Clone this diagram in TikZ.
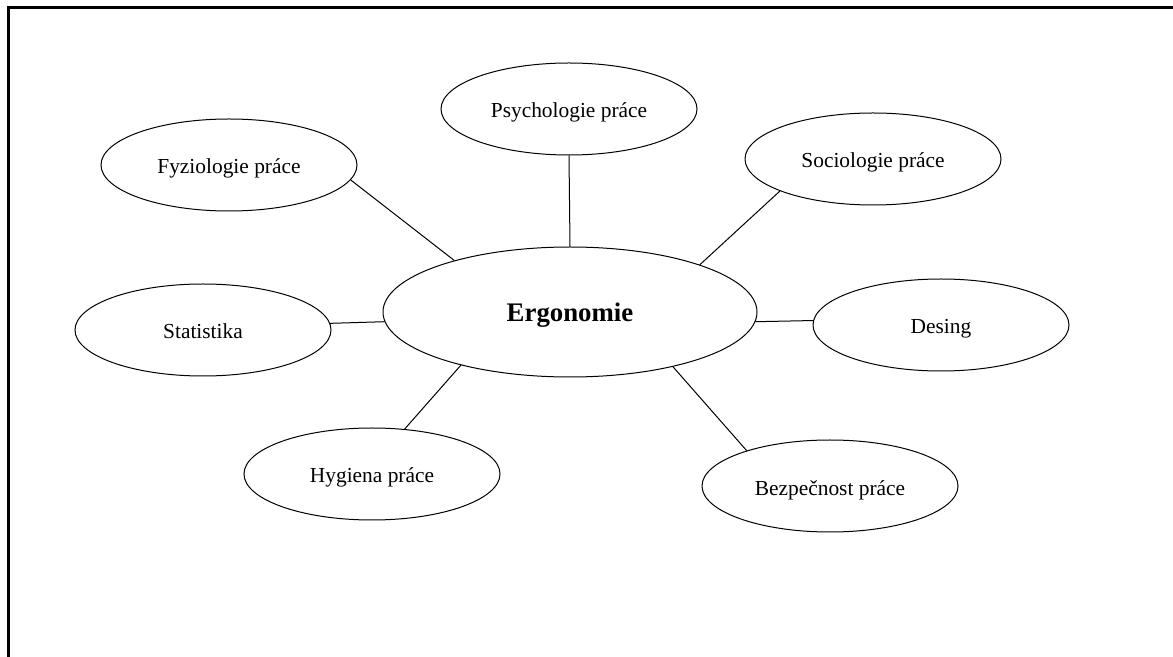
\documentclass[tikz,border=0pt]{standalone}
\usepackage{fontspec}
\setmainfont{Liberation Serif}
\usepackage{tikz}
\usetikzlibrary{shapes.geometric}

\begin{document}
\begin{tikzpicture}[
                x=0.5pt, y=-0.5pt,
                topic/.style={ellipse, draw, line width=0.5pt, inner sep=0pt,
                    minimum width=128pt, minimum height=46pt,
                    text height=9pt, text depth=0pt, font=\fontsize{10.7}{12}\selectfont},
                core/.style={topic, minimum width=187pt, minimum height=65pt,
                    text height=10pt, font=\fontsize{13.4}{15}\selectfont\bfseries},
                every edge/.style={draw, line width=0.5pt}
            ]
                \useasboundingbox (0,0) rectangle (1173,657);
                % Frame
                \draw[line width=1.5pt] (8,657) -- (8,8) -- (1173,8);

                % Nodes
                \node[core] (ergo) at (570,312) {Ergonomie};
                \node[topic] (psy) at (569,109) {Psychologie práce};
                \node[topic] (fyz) at (229,165) {Fyziologie práce};
                \node[topic] (soc) at (873,159) {Sociologie práce};
                \node[topic] (stat) at (203,330) {Statistika};
                \node[topic] (des) at (941,325) {Desing};
                \node[topic] (hyg) at (372,474) {Hygiena práce};
                \node[topic] (bez) at (830,486) {Bezpečnost práce};

                % Edges
                \path
                    (psy.south) edge (ergo.north)
                    (fyz.353) edge (ergo.156)
                    (soc.199) edge (ergo.20)
                    (stat.3) edge (ergo.183)
                    (des.178) edge (ergo.357)
                    (hyg.54) edge (ergo.206)
                    (bez.157) edge (ergo.332);
            \end{tikzpicture}
\end{document}
